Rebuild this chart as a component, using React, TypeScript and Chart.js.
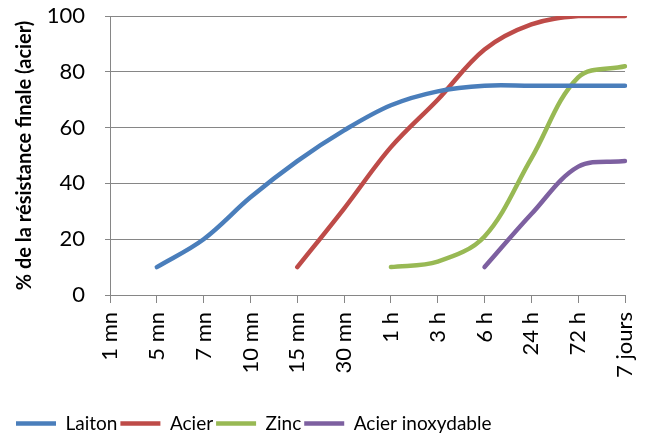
import React, { useEffect, useRef } from "react";
import { Chart, registerables } from "chart.js";

Chart.register(...registerables);

const categories = ["1 mn", "5 mn", "7 mn", "10 mn", "15 mn", "30 mn", "1 h", "3 h", "6 h", "24 h", "72 h", "7 jours"];
const laiton = [null, 10, 20, 35, 48, 59, 68, 73, 75, 75, 75, 75];
const acier = [null, null, null, null, 10, 31, 53, 70, 88, 97, 100, 100];
const zinc = [null, null, null, null, null, null, 10, 12, 21, 49, 78, 82];
const inox = [null, null, null, null, null, null, null, null, 10, 29, 46, 48];
const seriesNames = ["Laiton", "Acier", "Zinc", "Acier inoxydable"];
const seriesColors = ["#4A7EBB", "#BE4B48", "#98B954", "#7D60A0"];

const FONT = "Lato, 'Open Sans', sans-serif";

export default function App() {
  const ref = useRef<HTMLCanvasElement | null>(null);
  useEffect(() => {
    document.body.style.margin = "0";
    const values = [laiton, acier, zinc, inox];
    const chart = new Chart(ref.current as HTMLCanvasElement, {
      type: "line",
      data: {
        labels: categories,
        datasets: values.map((v, i) => ({
          label: seriesNames[i],
          data: v,
          borderColor: seriesColors[i],
          backgroundColor: seriesColors[i],
          borderWidth: 4.5,
          pointRadius: 0,
          tension: 0.35,
          borderCapStyle: "round" as const,
          fill: false,
        })),
      },
      options: {
        animation: false,
        responsive: false,
        maintainAspectRatio: false,
        layout: { padding: { top: 16, right: 23, left: 13, bottom: -4 } },
        plugins: {
          tooltip: { enabled: false },
          legend: {
            position: "bottom",
            align: "start",
            labels: {
              usePointStyle: true,
              pointStyle: "line",
              pointStyleWidth: 40,
              boxHeight: 5,
              padding: 3,
              color: "#000",
              font: { family: FONT, size: 19 },
            },
          },
        },
        scales: {
          x: {
            offset: false,
            grid: { drawOnChartArea: false, drawTicks: true, tickLength: 8, color: "#868686" },
            border: { color: "#868686", width: 1 },
            ticks: {
              minRotation: 90,
              maxRotation: 90,
              color: "#000",
              padding: 9,
              font: { family: FONT, size: 22 },
              autoSkip: false,
            },
            afterFit: (s: any) => {
              s.height = 116;
              s.paddingLeft = 0;
              s.paddingRight = 0;
            },
          },
          y: {
            min: 0,
            max: 100,
            grid: { color: "#868686", tickLength: 5, lineWidth: 1 },
            border: { color: "#868686", width: 1 },
            ticks: {
              stepSize: 20,
              color: "#000",
              padding: 20,
              font: { family: FONT, size: 22 },
            },
            title: {
              display: true,
              text: "% de la résistance finale (acier)",
              color: "#000",
              font: { family: FONT, size: 20, weight: "bold" },
              padding: { top: 0, bottom: 0 },
            },
            afterFit: (s: any) => {
              s.width = 97;
              s.paddingTop = 0;
              s.paddingBottom = 0;
            },
          },
        },
      },
    });
    return () => chart.destroy();
  }, []);
  return (
    <div style={{ width: 648, height: 439 }}>
      <canvas ref={ref} width={648} height={439} style={{ width: 648, height: 439 }} />
    </div>
  );
}
